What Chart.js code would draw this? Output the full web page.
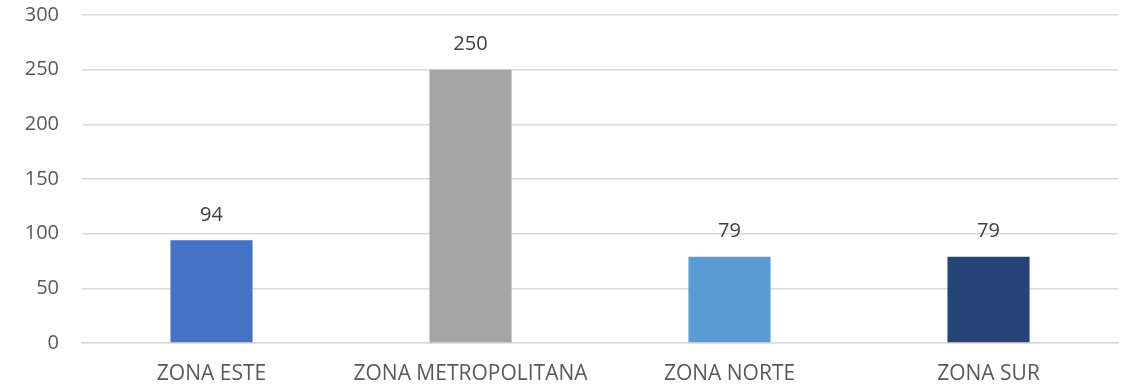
<!DOCTYPE html>
<html>
<head>
<meta charset="utf-8">
<script src="https://cdn.jsdelivr.net/npm/chart.js@4/dist/chart.umd.min.js"></script>
<style>
	html, body { margin: 0; padding: 0; background: #fff; }
	#wrap { width: 1134px; height: 389px; }
</style>
</head>
<body>
<div id="wrap"><canvas id="chart-zonas"></canvas></div>
<script>
// Zones chart
// ================================================================================
let zonas = ["ZONA ESTE", "ZONA METROPOLITANA", "ZONA NORTE", "ZONA SUR"];
let totales = [94, 250, 79, 79];
let colores = ["#4472c4", "#a5a5a5", "#5b9bd5", "#264478"];
let y_ticks = [0, 50, 100, 150, 200, 250, 300];

const FONT = "'Open Sans', sans-serif";

// value above every bar
let bar_values = {
	id: 'bar_values',
	afterDatasetsDraw(chart) {
		let ctx = chart.ctx;
		ctx.save();
		ctx.font = "20px " + FONT;
		ctx.fillStyle = "#404040";
		ctx.textAlign = "center";
		ctx.textBaseline = "middle";
		chart.getDatasetMeta(0).data.forEach((bar, i) => {
			ctx.fillText(chart.data.datasets[0].data[i], bar.x, bar.y - 25);
		});
		ctx.restore();
	}
};

new Chart(document.getElementById('chart-zonas'), {
	type: 'bar',
	data: {
		labels: zonas,
		datasets: [{
			data: totales,
			backgroundColor: colores,
			categoryPercentage: 1,
			barPercentage: 0.317
		}]
	},
	options: {
		responsive: true,
		maintainAspectRatio: false,
		animation: false,
		layout: { padding: { top: 15, right: 16, left: 0, bottom: 0 } },
		plugins: {
			legend: { display: false },
			tooltip: { enabled: false }
		},
		scales: {
			x: {
				grid: { display: false, drawTicks: false },
				border: { color: "#d9d9d9", width: 1.5 },
				ticks: { color: "#595959", font: { family: FONT, size: 21 }, padding: 18 },
				afterFit: axis => { axis.height = 46; }
			},
			y: {
				min: 0,
				max: 300,
				afterBuildTicks: axis => { axis.ticks = y_ticks.map(v => ({ value: v })); },
				grid: { color: "#d9d9d9", lineWidth: 1.5, drawTicks: false },
				border: { display: false },
				ticks: { color: "#595959", font: { family: FONT, size: 20 }, padding: 23 },
				afterFit: axis => {
					axis.width = 82;
					axis.paddingTop = 0;
					axis.paddingBottom = 0;
				}
			}
		}
	},
	plugins: [bar_values]
});
</script>
</body>
</html>
